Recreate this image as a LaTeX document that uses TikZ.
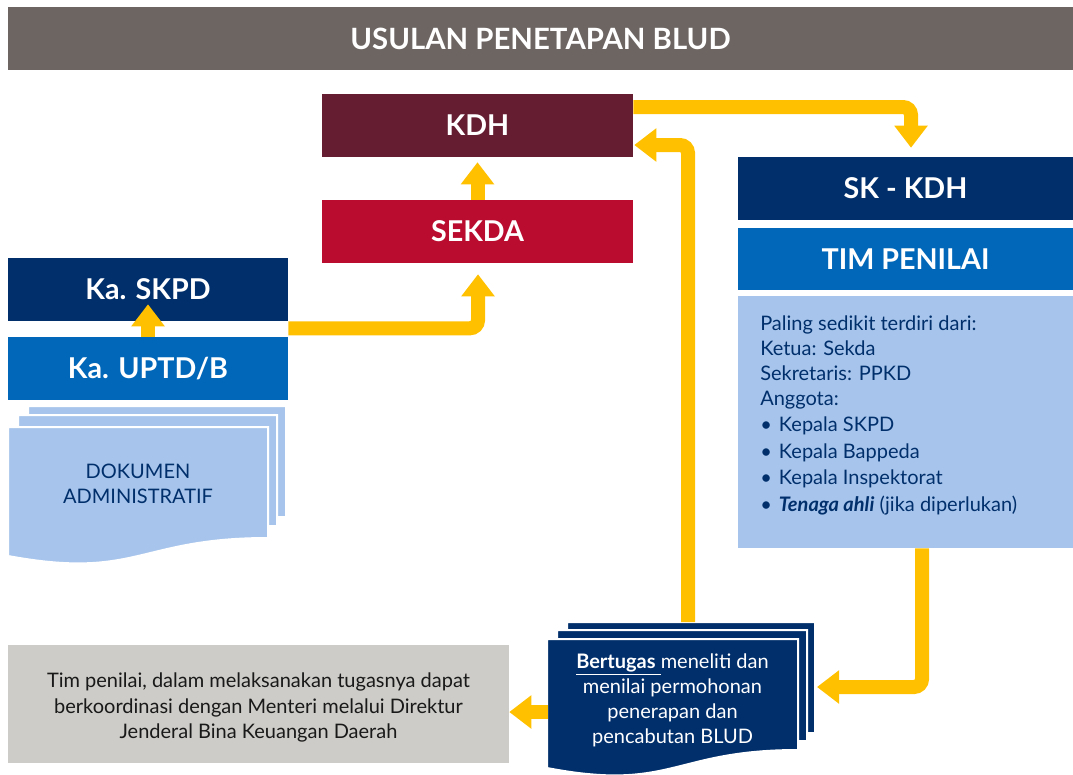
\documentclass[tikz,border=0pt]{standalone}
\usepackage{fontspec}
\setmainfont{Lato}
\usetikzlibrary{arrows.meta,calc}

\definecolor{judul}{HTML}{6D6562}
\definecolor{kdhred}{HTML}{651D32}
\definecolor{sekdared}{HTML}{BA0C2F}
\definecolor{birutua}{HTML}{002F6C}
\definecolor{biru}{HTML}{0067B9}
\definecolor{birumuda}{HTML}{A7C5EC}
\definecolor{abu}{HTML}{CDCCC8}
\definecolor{kuning}{HTML}{FFC000}

\newcommand{\pxu}{0.75pt}
% one page of a document stack: x, y (top left), width, fill
\newcommand{\docpage}[4]{%
  \filldraw[halaman, fill=#4] (#1,#2) -- ({#1+#3},#2) -- ({#1+#3},{#2+111})
    .. controls +({-#3/2},0) and +({#3/2},24) .. (#1,{#2+129}) -- cycle;}

\begin{document}
\begin{tikzpicture}[x=0.75pt, y=-0.75pt,
    kotak/.style={rectangle, inner sep=0pt, text=white, font=\bfseries\fontsize{21.5}{25}\selectfont},
    teks/.style={inner sep=0pt, align=center, font=\fontsize{15}{18.75}\selectfont},
    panah/.style={draw=kuning, line width=10.5pt, rounded corners=6pt, -{Triangle[width=24pt, length=16.5pt]}},
    halaman/.style={draw=white, line width=1.5pt}]
  \useasboundingbox (0,0) rectangle (1073,774);
  \clip (0,0) rectangle (1073,774);

  \node[kotak, fill=judul, minimum width=1065*\pxu, minimum height=63*\pxu,
    font=\bfseries\fontsize{22}{26}\selectfont] (judul) at (540.5,38.5) {USULAN PENETAPAN BLUD};

  \node[kotak, fill=kdhred, minimum width=311*\pxu, minimum height=63*\pxu] (kdh) at (477.5,125.5) {KDH};
  \node[kotak, fill=sekdared, minimum width=311*\pxu, minimum height=63*\pxu] (sekda) at (477.5,231.5) {SEKDA};

  \node[kotak, fill=birutua, minimum width=335*\pxu, minimum height=63*\pxu] (skkdh) at (905.5,188.5) {SK - KDH};
  \node[kotak, fill=biru, minimum width=335*\pxu, minimum height=62*\pxu] (tim) at (905.5,259) {TIM PENILAI};
  \node[fill=birumuda, minimum width=335*\pxu, minimum height=252*\pxu, inner sep=0pt] (ket) at (905.5,422) {};
  \node[anchor=north west, inner sep=0pt, align=left, text=birutua,
    font=\fontsize{15}{18.8}\selectfont] (anggota) at (760,315) {Paling sedikit terdiri dari:\\
    Ketua: Sekda\\
    Sekretaris: PPKD\\
    Anggota:\\[1pt]
    \makebox[14pt][l]{\textbullet}Kepala SKPD\\[1.2pt]
    \makebox[14pt][l]{\textbullet}Kepala Bappeda\\[1.2pt]
    \makebox[14pt][l]{\textbullet}Kepala Inspektorat\\[1.2pt]
    \makebox[14pt][l]{\textbullet}\textbf{\textit{Tenaga ahli}} (jika diperlukan)};

  \node[kotak, fill=birutua, minimum width=280*\pxu, minimum height=63*\pxu] (skpd) at (148,289.5) {Ka. SKPD};
  \node[kotak, fill=biru, minimum width=280*\pxu, minimum height=63*\pxu] (uptd) at (148,368.5) {Ka. UPTD/B};

  % dokumen administratif
  \docpage{28}{406}{258}{birumuda}
  \docpage{18}{415}{259}{birumuda}
  \docpage{8}{427}{260}{birumuda}
  \node[teks, text=birutua] (dok) at (138,484) {DOKUMEN\\ADMINISTRATIF};

  % tugas tim penilai
  \docpage{567}{622}{248}{birutua}
  \docpage{557}{630}{250}{birutua}
  \docpage{547}{639}{251}{birutua}
  \node[teks, text=white] (tugas) at (672.5,700.5) {\underline{\textbf{Bertugas}\ }meneliti dan\\
    menilai permohonan\\ penerapan dan\\ pencabutan BLUD};
  \coordinate (tugasatas) at (688,622);
  \coordinate (tugaskanan) at (817,687);
  \coordinate (tugaskiri) at (548,712);

  \node[fill=abu, minimum width=501*\pxu, minimum height=118*\pxu, inner sep=0pt] (catatan) at (258.5,704) {};
  \node[teks, text=black!90, font=\fontsize{15}{19}\selectfont] (catatanteks) at (258.5,707.5)
    {Tim penilai, dalam melaksanakan tugasnya dapat\\
    berkoordinasi dengan Menteri melalui Direktur\\ Jenderal Bina Keuangan Daerah};

  \draw[panah] (uptd.north) -- ($(skpd.south)+(0,-17)$);
  \draw[panah] ($(skpd.south east)+(0,7)$) -| ($(sekda.south)+(0.5,11)$);
  \draw[panah] (sekda.north) -- ($(kdh.south)+(0,5)$);
  \draw[panah] ($(kdh.east)+(0,-18.5)$) -| ($(skkdh.north)+(5.5,-9)$);
  \draw[panah] (tugasatas) |- ($(kdh.east)+(1,19.5)$);
  \draw[panah] ($(ket.south)+(16.5,0)$) |- (tugaskanan);
  \draw[panah] (tugaskiri) -- (catatan.east |- tugaskiri);
\end{tikzpicture}
\end{document}
